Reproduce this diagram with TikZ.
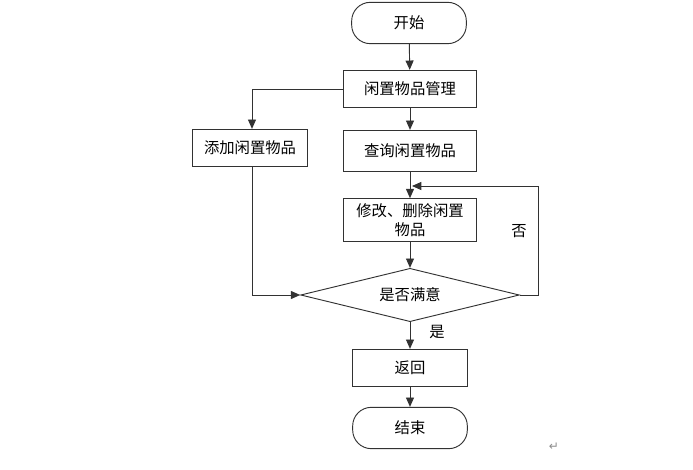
\documentclass[tikz,border=0pt]{standalone}
\usepackage{fontspec}
\setmainfont{Liberation Serif}
\newfontfamily\cjk{Noto Sans CJK SC}
\usetikzlibrary{shapes.geometric, arrows.meta, positioning}
\definecolor{flowline}{RGB}{50,50,50}

\begin{document}
\begin{tikzpicture}[
    x=0.75pt, y=-0.75pt,
    procbox/.style={rectangle, draw=flowline, line width=0.7pt,
                    minimum width=100pt, minimum height=28pt,
                    font=\cjk\fontsize{11.5}{14}\selectfont, inner sep=1pt, align=center},
    termbox/.style={procbox, rounded corners=14pt, minimum width=86pt,
                    minimum height=31pt},
    decision/.style={diamond, draw=flowline, line width=0.7pt, aspect=4.05,
                     minimum width=164pt, minimum height=40pt,
                     font=\cjk\fontsize{11.5}{14}\selectfont, inner sep=0pt},
    flow/.style={-{Triangle[length=7pt,width=6pt]}, line width=0.7pt,
                 color=flowline},
    edgelabel/.style={font=\cjk\fontsize{11.5}{14}\selectfont},
]
\useasboundingbox (0,0) rectangle (693,470);

% main column
\node[termbox] (start) at (409,23) {开始};
\node[procbox] (manage) at (410,89) {闲置物品管理};
\node[procbox, minimum width=86pt] (add) at (250,148) {添加闲置物品};
\node[procbox, minimum height=31pt] (query) at (410,151) {查询闲置物品};
\node[procbox, minimum height=32pt, inner sep=0pt] (edit) at (410,220)
     {修改、删除闲置\\物品};
\node[decision] (check) at (410,295) {是否满意};
\node[procbox, minimum width=86pt] (back) at (410,368) {返回};
\node[termbox] (stop) at (410,428) {结束};

% loop-back corner points
\coordinate (loopr) at (538,295);
\coordinate (loopt) at (538,186);
\coordinate (loopin) at (412,186);
\coordinate (addturn) at (252,295);

\draw[flow] (start) -- (manage);
\draw[flow] (manage) -- (query);
\draw[flow] (manage.west) -| (add.north -| 252,0);
\draw[flow] (query) -- (edit);
\draw[flow] (edit) -- (check);
\draw[flow] (add.south -| 252,0) -- (addturn) -- (check.west);
\draw[flow] (check.east) -- (loopr) -- (loopt) -- (loopin);
\draw[flow] (check) -- (back);
\draw[flow] (back) -- (stop);

\node[edgelabel] (nolabel) at (519,231) {否};
\node[edgelabel] (yeslabel) at (437,332) {是};
\node[font=\fontspec{DejaVu Sans}\fontsize{9}{9}\selectfont, text=black!45]
     (ret) at (554,447) {↵};

\end{tikzpicture}
\end{document}
